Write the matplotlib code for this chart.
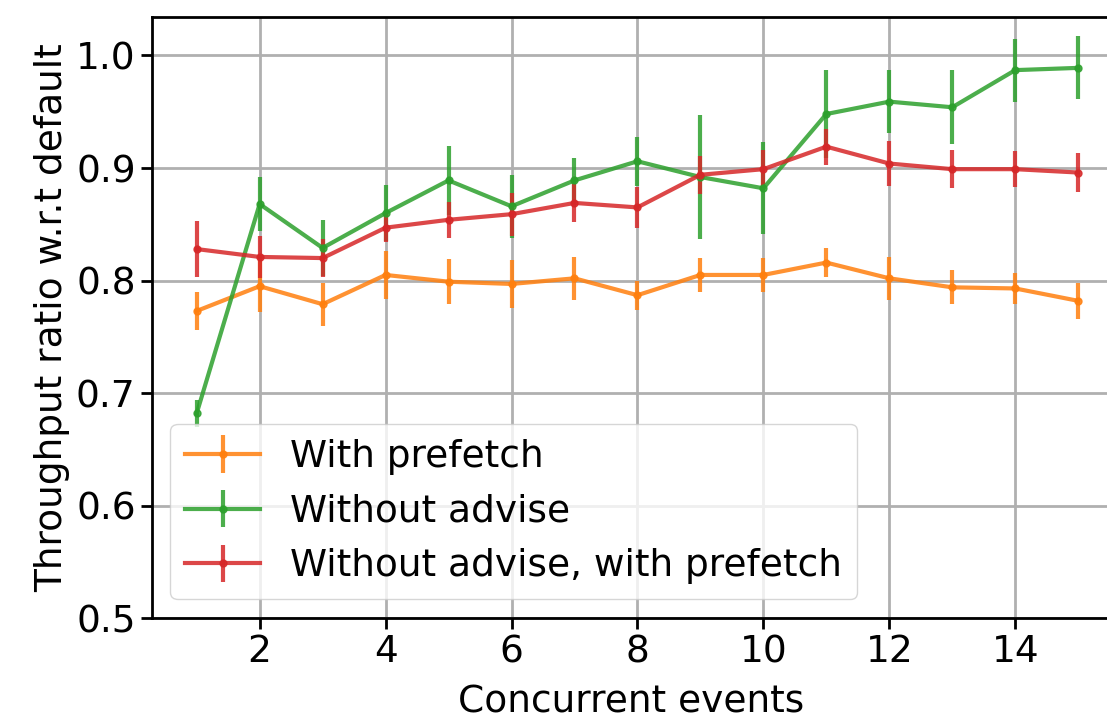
import matplotlib
matplotlib.use('Agg')
import matplotlib.pyplot as plt
import numpy as np

events = np.arange(1, 16)

prefetch = [0.773, 0.795, 0.779, 0.805, 0.799, 0.797, 0.802, 0.787,
            0.805, 0.805, 0.816, 0.802, 0.794, 0.793, 0.782]
prefetch_err = [0.017, 0.023, 0.019, 0.021, 0.020, 0.021, 0.019, 0.013,
                0.015, 0.015, 0.013, 0.019, 0.015, 0.014, 0.016]

no_advise = [0.682, 0.868, 0.829, 0.860, 0.889, 0.866, 0.889, 0.906,
             0.892, 0.882, 0.948, 0.959, 0.954, 0.987, 0.989]
no_advise_err = [0.012, 0.024, 0.025, 0.025, 0.031, 0.028, 0.020, 0.022,
                 0.055, 0.041, 0.039, 0.028, 0.033, 0.028, 0.028]

no_advise_prefetch = [0.828, 0.821, 0.820, 0.847, 0.854, 0.859, 0.869, 0.865,
                      0.894, 0.899, 0.919, 0.904, 0.899, 0.899, 0.896]
no_advise_prefetch_err = [0.025, 0.019, 0.017, 0.013, 0.016, 0.019, 0.017, 0.018,
                          0.017, 0.017, 0.016, 0.020, 0.017, 0.016, 0.017]

plt.rcParams['font.size'] = 27

fig = plt.figure(figsize=(11.07, 7.18), dpi=100)
ax = fig.add_axes([0.137, 0.139, 0.866, 0.837])

style = dict(fmt='.-', linewidth=3, elinewidth=3, markersize=10, alpha=0.85)
ax.errorbar(events, prefetch, yerr=prefetch_err, color='tab:orange',
            label='With prefetch', **style)
ax.errorbar(events, no_advise, yerr=no_advise_err, color='tab:green',
            label='Without advise', **style)
ax.errorbar(events, no_advise_prefetch, yerr=no_advise_prefetch_err,
            color='tab:red', label='Without advise, with prefetch', **style)

ax.set_xlim(0.285, 15.51)
ax.set_ylim(0.5, 1.034)
ax.set_xticks([2, 4, 6, 8, 10, 12, 14])
ax.set_yticks([0.5, 0.6, 0.7, 0.8, 0.9, 1.0])
ax.grid(True, linewidth=2)
ax.tick_params(width=2, length=8)
for s in ax.spines.values():
    s.set_linewidth(2)

ax.set_xlabel('Concurrent events', labelpad=10)
ax.set_ylabel('Throughput ratio w.r.t default')
ax.legend(loc='lower left')

fig.savefig('out.png', dpi=100)
